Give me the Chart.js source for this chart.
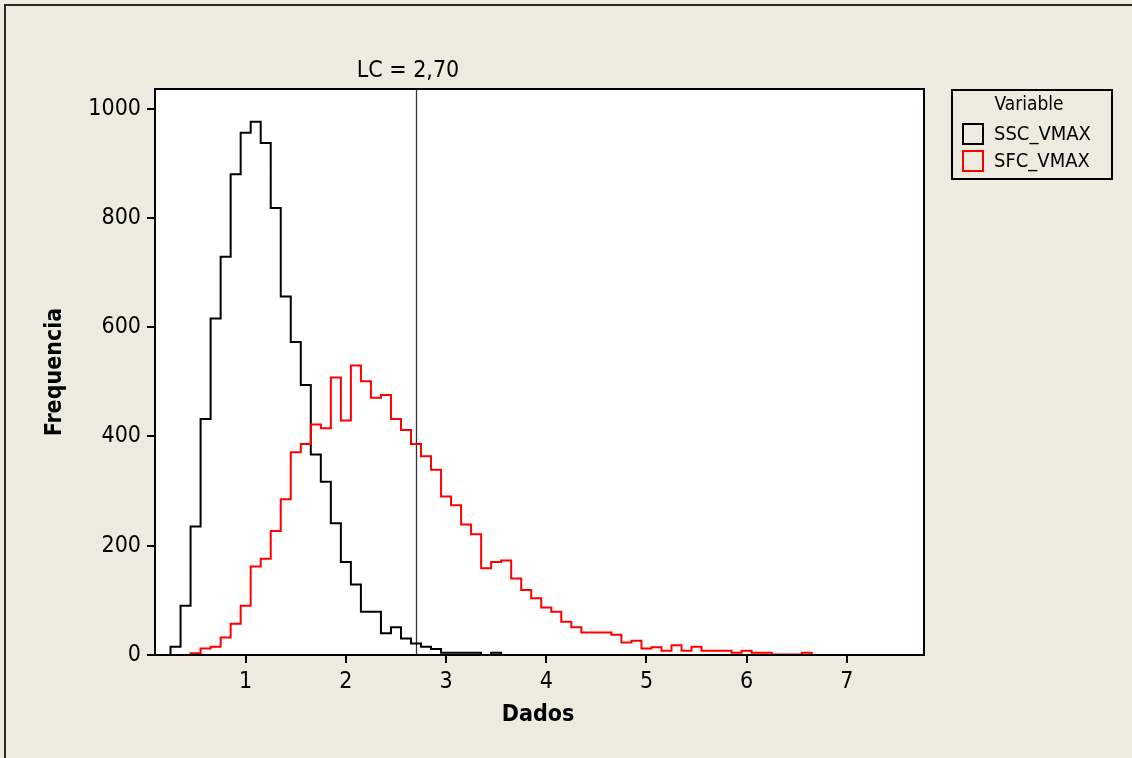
<!DOCTYPE html>
<html>
<head>
<meta charset="utf-8">
<script src="https://cdn.jsdelivr.net/npm/chart.js@4.4.1/dist/chart.umd.min.js"></script>
<style>
    html, body { margin: 0; padding: 0; background: #eeeae0; overflow: hidden; }
    #grafico { display: block; }
</style>
</head>
<body>
<canvas id="grafico" width="1132" height="758"></canvas>
<script>
// centros das classes (largura 0,1)
const binCenters = [
    0.3, 0.4, 0.5, 0.6, 0.7, 0.8, 0.9, 1.0,
    1.1, 1.2, 1.3, 1.4, 1.5, 1.6, 1.7, 1.8, 1.9, 2.0,
    2.1, 2.2, 2.3, 2.4, 2.5, 2.6, 2.7, 2.8, 2.9, 3.0,
    3.1, 3.2, 3.3, 3.4, 3.5, 3.6, 3.7, 3.8, 3.9, 4.0,
    4.1, 4.2, 4.3, 4.4, 4.5, 4.6, 4.7, 4.8, 4.9, 5.0,
    5.1, 5.2, 5.3, 5.4, 5.5, 5.6, 5.7, 5.8, 5.9, 6.0,
    6.1, 6.2, 6.3, 6.4, 6.5, 6.6, 6.7, 6.8, 6.9, 7.0,
    7.1, 7.2, 7.3, 7.4, 7.5, 7.6
];
const binWidth = 0.1;

const sscVmax = [
    15, 90, 235, 432, 616, 729, 880, 956,
    976, 937, 818, 656, 573, 494, 367, 317, 241, 170,
    129, 79, 79, 40, 51, 30, 21, 15, 11, 4,
    4, 4, 4, 0, 4, 0, 0, 0, 0, 0,
    0, 0, 0, 0, 0, 0, 0, 0, 0, 0,
    0, 0, 0, 0, 0, 0, 0, 0, 0, 0,
    0, 0, 0, 0, 0, 0, 0, 0, 0, 0,
    0, 0, 0, 0, 0, 0
];

const sfcVmax = [
    0, 0, 3, 12, 15, 32, 57, 90,
    162, 176, 227, 285, 371, 386, 422, 415, 508, 429,
    530, 501, 471, 476, 432, 412, 386, 364, 339, 290,
    274, 239, 221, 159, 170, 173, 140, 119, 104, 87,
    79, 61, 51, 41, 41, 41, 37, 23, 26, 12,
    14, 8, 18, 8, 15, 8, 8, 8, 4, 8,
    4, 4, 1, 1, 1, 4, 0, 0, 0, 0,
    0, 0, 0, 0, 0, 0
];

const xTicks = [1, 2, 3, 4, 5, 6, 7];
const yTicks = [0, 200, 400, 600, 800, 1000];
const limiteLC = 2.70;
const textoLC = "LC = 2,70";

const FONTE = "'DejaVu Sans Condensed', 'DejaVu Sans', sans-serif";

// contorno em degraus: sobe na borda esquerda da 1a classe, desce na última
function contorno(contagens) {
    const pts = [{ x: binCenters[0] - binWidth / 2, y: 0 }];
    contagens.forEach((c, i) => pts.push({ x: binCenters[i] - binWidth / 2, y: c }));
    pts.push({ x: binCenters[binCenters.length - 1] + binWidth / 2, y: 0 });
    return pts;
}

const extras = {
    id: 'extras',
    beforeDraw(chart) {
        const ctx = chart.ctx;
        const a = chart.chartArea;
        ctx.save();
        ctx.fillStyle = '#eeeae0';
        ctx.fillRect(0, 0, chart.width, chart.height);
        ctx.fillStyle = '#ffffff';
        ctx.fillRect(a.left, a.top, a.right - a.left, a.bottom - a.top);
        // moldura externa
        ctx.strokeStyle = '#2a2a2a';
        ctx.lineWidth = 2;
        ctx.beginPath();
        ctx.moveTo(5, chart.height);
        ctx.lineTo(5, 5);
        ctx.lineTo(chart.width, 5);
        ctx.stroke();
        ctx.restore();
    },
    beforeDatasetsDraw(chart) {
        const ctx = chart.ctx;
        const a = chart.chartArea;
        const x = Math.round(chart.scales.x.getPixelForValue(limiteLC)) + 0.5;
        ctx.save();
        ctx.strokeStyle = '#333333';
        ctx.lineWidth = 1.3;
        ctx.beginPath();
        ctx.moveTo(x, a.top);
        ctx.lineTo(x, a.bottom);
        ctx.stroke();
        ctx.restore();
    },
    afterDraw(chart) {
        const ctx = chart.ctx;
        const a = chart.chartArea;
        ctx.save();
        // moldura do gráfico
        ctx.strokeStyle = '#000';
        ctx.lineWidth = 2;
        ctx.strokeRect(a.left, a.top, a.right - a.left, a.bottom - a.top);

        ctx.fillStyle = '#000';
        ctx.textAlign = 'center';
        ctx.textBaseline = 'middle';
        // rótulo LC
        ctx.font = "23px " + FONTE;
        ctx.fillText(textoLC, chart.scales.x.getPixelForValue(limiteLC) - 8, 71);

        // títulos dos eixos
        ctx.font = "bold 23px " + FONTE;
        ctx.fillText("Dados", 538, 715);
        ctx.save();
        ctx.translate(55, 372);
        ctx.rotate(-Math.PI / 2);
        ctx.fillText("Frequencia", 0, 0);
        ctx.restore();

        // legenda
        ctx.lineWidth = 2;
        ctx.strokeStyle = '#000';
        ctx.strokeRect(952, 90, 160, 89);
        ctx.font = "19px " + FONTE;
        ctx.fillText("Variable", 1029, 105);
        ctx.textAlign = 'left';
        ctx.font = "20px " + FONTE;
        const itens = [chart.data.datasets[1], chart.data.datasets[0]];
        itens.forEach((ds, i) => {
            const yc = 134 + i * 27;
            ctx.strokeStyle = ds.borderColor;
            ctx.strokeRect(963, yc - 10, 20, 20);
            ctx.fillStyle = '#000';
            ctx.fillText(ds.label, 994, yc + 1);
        });
        ctx.restore();
    }
};

const ctxGrafico = document.getElementById("grafico");
new Chart(ctxGrafico, {
    type: 'line',
    data: {
        datasets: [
            { label: 'SFC_VMAX', data: contorno(sfcVmax), borderColor: '#ff0000', borderWidth: 2, stepped: 'before', pointRadius: 0, fill: false, order: 0 },
            { label: 'SSC_VMAX', data: contorno(sscVmax), borderColor: '#000000', borderWidth: 2, stepped: 'before', pointRadius: 0, fill: false, order: 1 }
        ]
    },
    options: {
        responsive: false,
        animation: false,
        events: [],
        layout: { padding: { left: 65, top: 89, right: 208, bottom: 43 } },
        plugins: { legend: { display: false }, tooltip: { enabled: false } },
        scales: {
            x: {
                type: 'linear',
                min: 0.095,
                max: 7.77,
                afterFit: s => { s.height = 60; },
                afterBuildTicks: s => { s.ticks = xTicks.map(v => ({ value: v })); },
                ticks: { color: '#000', font: { size: 23, family: FONTE }, padding: 5, maxRotation: 0, callback: v => String(v) },
                grid: { drawOnChartArea: false, drawTicks: true, tickLength: 8, color: '#000', lineWidth: 2 },
                border: { display: true, color: '#000', width: 2 }
            },
            y: {
                min: 0,
                max: 1036,
                afterFit: s => { s.width = 90; },
                afterBuildTicks: s => { s.ticks = yTicks.map(v => ({ value: v })); },
                ticks: { color: '#000', font: { size: 23, family: FONTE }, padding: 6, callback: v => String(v) },
                grid: { drawOnChartArea: false, drawTicks: true, tickLength: 8, color: '#000', lineWidth: 2 },
                border: { display: true, color: '#000', width: 2 }
            }
        }
    },
    plugins: [extras]
});
</script>
</body>
</html>
